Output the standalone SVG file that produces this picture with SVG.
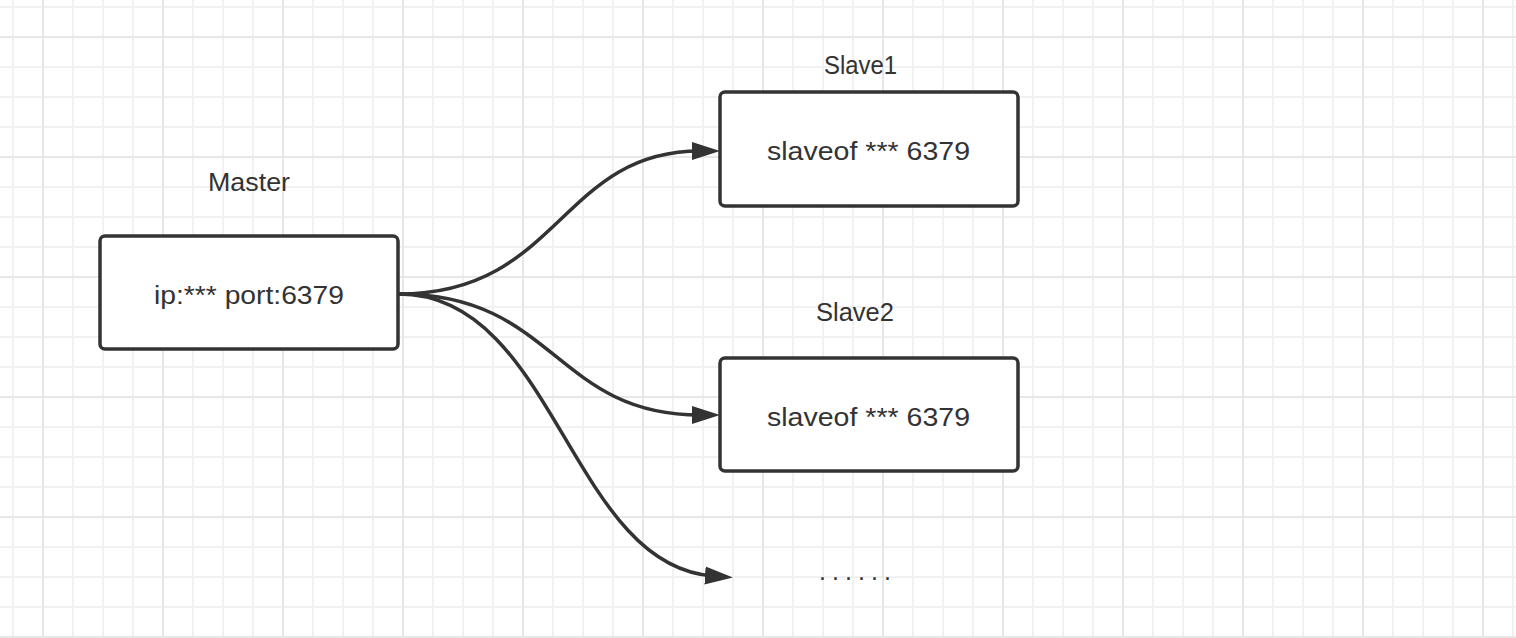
<svg xmlns="http://www.w3.org/2000/svg" width="1516" height="638" viewBox="0 0 1516 638">
  <defs>
    <pattern id="gridMinor" patternUnits="userSpaceOnUse" x="12" y="6" width="30" height="30">
      <path d="M0,1 H30 M1,0 V30" fill="none" stroke="#f1f1f1" stroke-width="2"/>
    </pattern>
    <pattern id="gridMajor" patternUnits="userSpaceOnUse" x="42" y="36" width="120" height="120">
      <path d="M0,1 H120 M1,0 V120" fill="none" stroke="#e7e7e7" stroke-width="2"/>
    </pattern>
    <marker id="arrow" markerUnits="userSpaceOnUse" markerWidth="30" markerHeight="20" viewBox="0 -10 30 20" refX="8" refY="0" orient="auto">
      <path d="M0,-9 L28,0 L0,9 Z" fill="#333333"/>
    </marker>
    <style>
      .box { fill: #ffffff; stroke: #333333; stroke-width: 3.5; }
      .txt { font-family: "Liberation Sans", Arial, sans-serif; font-size: 25px; fill: #333333; }
      .conn { fill: none; stroke: #333333; stroke-width: 3.5; marker-end: url(#arrow); }
    </style>
  </defs>

  <rect width="1516" height="638" fill="#ffffff"/>
  <rect width="1516" height="638" fill="url(#gridMinor)"/>
  <rect width="1516" height="638" fill="url(#gridMajor)"/>

  <g id="connectors">
    <path class="conn" d="M399,294 C560,294 560,151 700,151"/>
    <path class="conn" d="M399,294 C555,294 555,415 700,415"/>
    <path class="conn" d="M399,294 C555,294 570,566 713,576"/>
  </g>

  <g id="master">
    <text class="txt" x="208" y="190.5" textLength="82" lengthAdjust="spacingAndGlyphs">Master</text>
    <rect class="box" x="100" y="236" width="298" height="113" rx="5"/>
    <text class="txt" x="154" y="304" textLength="190" lengthAdjust="spacingAndGlyphs">ip:*** port:6379</text>
  </g>

  <g id="slave1">
    <text class="txt" x="824" y="74" textLength="73" lengthAdjust="spacingAndGlyphs">Slave1</text>
    <rect class="box" x="720" y="92" width="298" height="114" rx="5"/>
    <text class="txt" x="767" y="160" textLength="203" lengthAdjust="spacingAndGlyphs">slaveof *** 6379</text>
  </g>

  <g id="slave2">
    <text class="txt" x="816" y="320.5" textLength="78" lengthAdjust="spacingAndGlyphs">Slave2</text>
    <rect class="box" x="720" y="358" width="298" height="113" rx="5"/>
    <text class="txt" x="767" y="426" textLength="203" lengthAdjust="spacingAndGlyphs">slaveof *** 6379</text>
  </g>

  <g id="more">
    <text class="txt" x="819" y="580" textLength="72" lengthAdjust="spacing">......</text>
  </g>
</svg>
